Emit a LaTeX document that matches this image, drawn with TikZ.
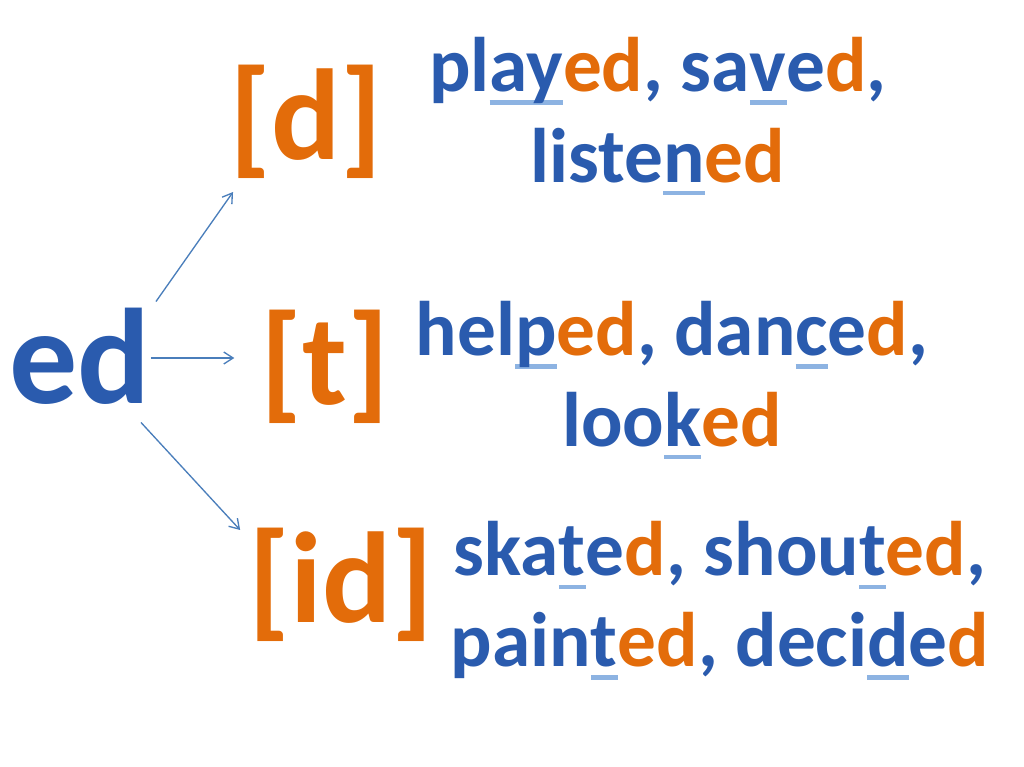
\documentclass[tikz,border=0pt]{standalone}
\usepackage{fontspec}
\setmainfont{Carlito}
\usetikzlibrary{arrows.meta}

\definecolor{edblue}{HTML}{2A5BAE}
\definecolor{edorange}{HTML}{E36C0A}
\definecolor{ulblue}{HTML}{8DB3E2}
\definecolor{arrowblue}{HTML}{4A7EBB}

% orange ending and underlined sound
\newcommand\orng[1]{\textcolor{edorange}{#1}}
\newcommand\ulbar[1]{\setbox0\hbox{#1}\rlap{\smash{\textcolor{ulblue}{\rule[-0.17em]{\wd0}{0.055em}}}}\box0}

\begin{document}
\begin{tikzpicture}[x=0.75pt,y=0.75pt,yscale=-1,
  big/.style={font=\bfseries\fontsize{102}{104}\selectfont,text=edblue,inner sep=0pt},
  sound/.style={font=\bfseries\fontsize{97}{100}\selectfont,text=edorange,inner sep=0pt},
  words/.style={font=\bfseries\fontsize{58}{68}\selectfont,text=edblue,inner sep=0pt,align=center},
  arr/.style={draw=arrowblue,line width=1pt,-{Straight Barb[length=7pt,width=9pt]}}]
\useasboundingbox (0,0) rectangle (1024,767);

% Text Node
\node[big] (ed) at (80,356) {ed};
% Text Node
\node[sound] (d) at (306,122) {[d]};
% Text Node
\node[sound] (t) at (325,367) {[t]};
% Text Node
\node[sound] (id) at (341,585) {[id]};

% Text Node
\node[words] (wordsd) at (658,110) {pl\ulbar{ay}\orng{ed}, sa\ulbar{v}e\orng{d},\\ liste\ulbar{n}\orng{ed}};
% Text Node
\node[words] (wordst) at (672,374) {hel\ulbar{p}\orng{ed}, dan\ulbar{c}e\orng{d},\\ loo\ulbar{k}\orng{ed}};
% Text Node
\node[words] (wordsid) at (720,600) {ska\ulbar{t}e\orng{d}, shou\ulbar{t}\orng{ed},\\ pain\ulbar{t}\orng{ed}, deci\ulbar{d}e\orng{d}};

%Straight Lines
\draw[arr] ([shift={(5,-6)}]ed.north east) -- ([shift={(4,13)}]d.south west);
%Straight Lines
\draw[arr] ([shift={(0,2)}]ed.east) -- ([shift={(-26,-9)}]t.west);
%Straight Lines
\draw[arr] ([shift={(-10,18)}]ed.south east) -- ([shift={(-8,2)}]id.north west);

\end{tikzpicture}
\end{document}
